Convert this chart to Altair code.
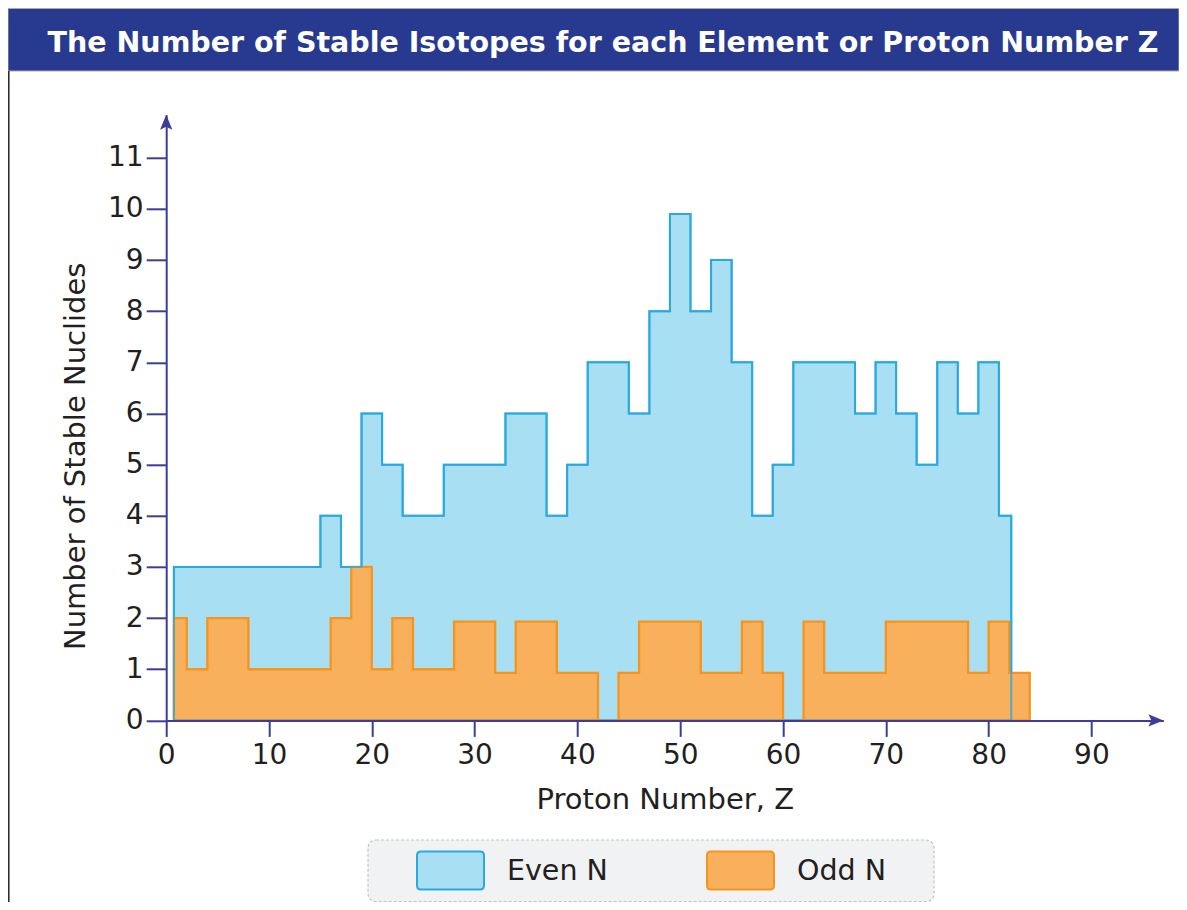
import altair as alt
import pandas as pd

# ---- data ----
# Even N: step breakpoints (proton number Z) and number of stable nuclides
even_z = [0.75, 15, 17, 19, 21, 23, 27, 33, 37, 39, 41, 45, 47, 49, 51, 53, 55,
          57, 59, 61, 67, 69, 71, 73, 75, 77, 79, 81, 82.2]
even_n = [3, 4, 3, 6, 5, 4, 5, 6, 4, 5, 7, 6, 8, 9.9, 8, 9, 7,
          4, 5, 7, 6, 7, 6, 5, 7, 6, 7, 4, 0]

# Odd N
odd_z = [0.75, 2, 4, 8, 16, 18, 20, 22, 24, 28, 32, 34, 38, 42, 44, 46, 52,
         56, 58, 60, 62, 64, 70, 78, 80, 82, 84]
odd_n = [2, 1, 2, 1, 2, 3, 1, 2, 1, 1.93, 0.93, 1.93, 0.93, 0, 0.93, 1.93, 0.93,
         1.93, 0.93, 0, 1.93, 0.93, 1.93, 0.93, 1.93, 0.93, 0]

series_names = ["Even N", "Odd N"]
x_ticks = list(range(0, 100, 10))
y_ticks = list(range(0, 12))
x_max = 97
y_max = 11.84

title_text = "The Number of Stable Isotopes for each Element or Proton Number Z"

# ---- styles ----
FONT = "DejaVu Sans"
axis_color = "#3b3d98"
text_color = "#231f20"
fill_colors = ["#a9dff3", "#f9b05d"]
line_colors = ["#2aa9e0", "#f7941e"]
bar_color = "#283a8f"

rows = [{"Z": z, "count": n, "series": series_names[0]} for z, n in zip(even_z, even_n)]
rows += [{"Z": z, "count": n, "series": series_names[1]} for z, n in zip(odd_z, odd_n)]
df = pd.DataFrame(rows)

W = 997.2
H = 605.6

x_enc = alt.X(
    "Z:Q",
    scale=alt.Scale(domain=[0, x_max], nice=False, zero=False),
    axis=alt.Axis(
        values=x_ticks, title="Proton Number, Z", grid=False, zindex=1,
        domainColor=axis_color, tickColor=axis_color, domainWidth=2, tickWidth=2,
        tickSize=16, labelFont=FONT, labelFontSize=28, labelColor=text_color,
        labelPadding=5.5, labelFlush=False, labelOverlap=False,
        titleFont=FONT, titleFontSize=29, titleFontWeight="normal",
        titleColor=text_color, titleY=88.6, titleBaseline="alphabetic",
    ),
)
y_enc = alt.Y(
    "count:Q",
    scale=alt.Scale(domain=[0, y_max], nice=False),
    axis=alt.Axis(
        values=y_ticks, title="Number of Stable Nuclides", grid=False, zindex=1,
        domainColor=axis_color, tickColor=axis_color, domainWidth=2, tickWidth=2,
        tickSize=20, labelFont=FONT, labelFontSize=28, labelColor=text_color,
        labelPadding=3, labelOverlap=False,
        titleFont=FONT, titleFontSize=29, titleFontWeight="normal",
        titleColor=text_color, titleAngle=270, titleX=-81.7, titleY=341,
        titleAlign="center", titleBaseline="alphabetic",
    ),
)

symbol_path = ("M-0.88,-0.567H0.88Q1,-0.567,1,-0.447V0.447Q1,0.567,0.88,0.567"
               "H-0.88Q-1,0.567,-1,0.447V-0.447Q-1,-0.567,-0.88,-0.567Z")

def make_legend():
    return alt.Legend(
        orient="none", legendX=249.8, legendY=721, direction="horizontal",
        title=None, symbolType=symbol_path, symbolSize=4489, symbolStrokeWidth=2,
        symbolOpacity=1, labelFont=FONT, labelFontSize=28.5, labelColor=text_color,
        labelOffset=22, columnPadding=95, padding=0, labelLimit=300,
    )

fill_enc = alt.Fill("series:N", scale=alt.Scale(domain=series_names, range=fill_colors),
                    legend=make_legend())
stroke_enc = alt.Stroke("series:N", scale=alt.Scale(domain=series_names, range=line_colors),
                        legend=make_legend())

base = alt.Chart(df).encode(x=x_enc, y=y_enc)

even_area = base.mark_area(interpolate="step-after", strokeWidth=2).encode(
    fill=fill_enc, stroke=stroke_enc
).transform_filter(alt.datum.series == series_names[0])

odd_area = base.mark_area(interpolate="step-after", strokeWidth=2.3).encode(
    fill=fill_enc, stroke=stroke_enc
).transform_filter(alt.datum.series == series_names[1])

even_outline = base.mark_area(
    interpolate="step-after", fill="white", fillOpacity=0,
    stroke=line_colors[0], strokeOpacity=0.8, strokeWidth=2,
).transform_filter(alt.datum.series == series_names[0])

up_arrow = alt.Chart(alt.Data(values=[{"Z": 0, "count": y_max}])).mark_point(
    shape="M0,0L0.41,1L0,0.8L-0.41,1Z", size=900, filled=True,
    fill=axis_color, opacity=1, strokeWidth=0,
).encode(x=x_enc, y=y_enc)

right_arrow = alt.Chart(alt.Data(values=[{"Z": x_max, "count": 0}])).mark_point(
    shape="M0,0L-1,-0.41L-0.8,0L-1,0.41Z", size=900, filled=True,
    fill=axis_color, opacity=1, strokeWidth=0,
).encode(x=x_enc, y=y_enc)

one = alt.Data(values=[{}])

title_bar = alt.Chart(one).mark_rect(
    fill=bar_color, stroke="#aaaaaa", strokeWidth=1
).encode(x=alt.value(-158.2), x2=alt.value(1012.8), y=alt.value(-106.3), y2=alt.value(-43.8))

title_mark = alt.Chart(one).mark_text(
    text=title_text, font=FONT, fontWeight="bold", fontSize=28.5, color="white",
    align="center", baseline="alphabetic",
).encode(x=alt.value(436.8), y=alt.value(-63.1))

left_border = alt.Chart(one).mark_rule(color="#222222", strokeWidth=1.5).encode(
    x=alt.value(-157.4), y=alt.value(-43.8), y2=alt.value(787.2)
)

legend_box = alt.Chart(one).mark_rect(
    fill="#f1f2f4", stroke="#c4c4c4", strokeDash=[3, 2], strokeWidth=1.2, cornerRadius=8
).encode(x=alt.value(201.8), x2=alt.value(767.8), y=alt.value(725.2), y2=alt.value(786.9))

chart = alt.layer(
    title_bar, legend_box, left_border, even_area, odd_area, even_outline,
    up_arrow, right_arrow, title_mark,
).properties(
    width=W, height=H,
    padding={"left": 158.2, "top": 106.8, "right": 15.6, "bottom": 181.6},
    autosize=alt.AutoSizeParams(type="none"),
    background="white",
).configure_view(stroke=None)

chart.save("out.html", embed_options={"renderer": "svg", "actions": False})
